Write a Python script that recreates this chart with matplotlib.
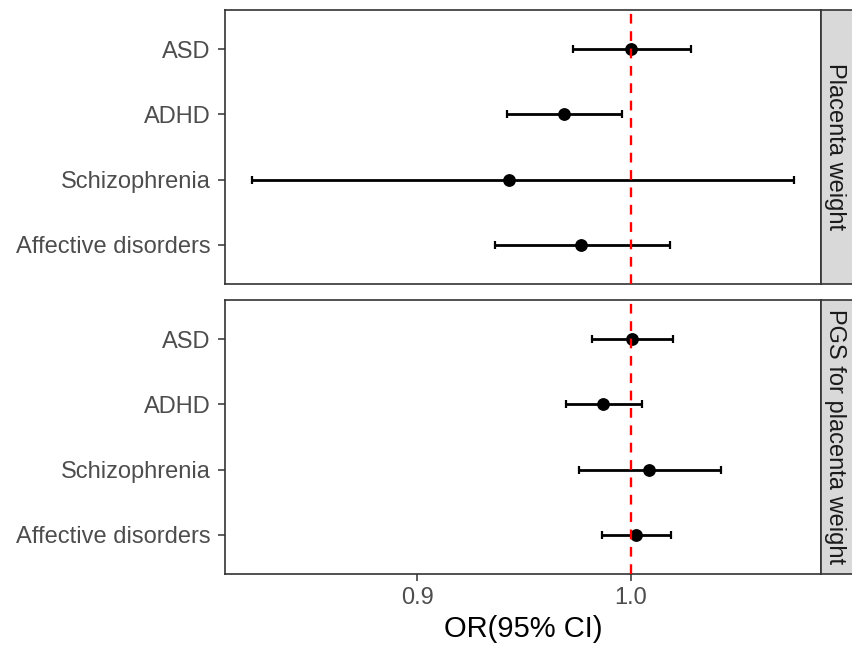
import numpy as np
import matplotlib
matplotlib.use("Agg")
import matplotlib.pyplot as plt

plt.rcParams['font.family'] = ['Liberation Sans', 'DejaVu Sans']
plt.rcParams['lines.scale_dashes'] = False

# Outcomes, listed top to bottom
outcomes = ["ASD", "ADHD", "Schizophrenia", "Affective disorders"]
exposures = ["Placenta weight", "PGS for placenta weight"]

# Odds ratios with 95% confidence limits
pw_or = [1.000, 0.9686, 0.9428, 0.9764]
pw_lo = [0.9727, 0.9418, 0.8228, 0.9364]
pw_hi = [1.0282, 0.9959, 1.0762, 1.0184]

pgs_or = [1.0005, 0.9871, 1.0082, 1.0025]
pgs_lo = [0.9818, 0.9698, 0.9757, 0.9866]
pgs_hi = [1.0198, 1.0052, 1.0421, 1.0187]

x_ticks = [0.9, 1.0]
x_tick_labels = ["0.9", "1.0"]

W, H = 853, 647
fig = plt.figure(figsize=(W / 100, H / 100), dpi=100)

GREY20 = "#333333"
GREY30 = "#4D4D4D"

left, right = 225, 821
panels = [(10, 284), (300, 574)]
series = [(pw_or, pw_lo, pw_hi), (pgs_or, pgs_lo, pgs_hi)]

all_lo = min(pw_lo + pgs_lo)
all_hi = max(pw_hi + pgs_hi)
span = all_hi - all_lo
xlim = (all_lo - 0.05 * span, all_hi + 0.05 * span)

y = np.arange(len(outcomes))

for i, ((top, bot), (est, lo, hi), label) in enumerate(zip(panels, series, exposures)):
    ax = fig.add_axes([left / W, 1 - bot / H, (right - left) / W, (bot - top) / H])
    est = np.array(est); lo = np.array(lo); hi = np.array(hi)
    ax.errorbar(est, y, xerr=[est - lo, hi - est], fmt='none', ecolor='black',
                elinewidth=2.0, capsize=2.8, capthick=1.6, zorder=2)
    ax.plot(est, y, 'o', color='black', markersize=8.2, zorder=3)
    ax.axvline(1.0, color='red', linewidth=1.7, linestyle=(0, (7.0, 5.5)), zorder=4)

    ax.set_xlim(*xlim)
    ax.set_ylim(len(outcomes) - 0.4, -0.6)
    ax.set_yticks(y)
    ax.set_yticklabels(outcomes)
    ax.tick_params(axis='y', length=5, width=1.1, color=GREY20, labelcolor=GREY30,
                   labelsize=17, pad=5.5)
    for s in ax.spines.values():
        s.set_color(GREY20)
        s.set_linewidth(1.2)
    if i == 1:
        ax.set_xticks(x_ticks)
        ax.set_xticklabels(x_tick_labels)
        ax.tick_params(axis='x', length=5, width=1.1, color=GREY20, labelcolor=GREY30,
                       labelsize=17, pad=4)
        ax.set_xlabel("OR(95% CI)", fontsize=21, color='black', labelpad=5)
    else:
        ax.set_xticks([])

    # Facet strip on the right
    sax = fig.add_axes([right / W, 1 - bot / H, (W - right + 2) / W, (bot - top) / H])
    sax.set_facecolor("#D9D9D9")
    sax.set_xticks([]); sax.set_yticks([])
    for s in sax.spines.values():
        s.set_color(GREY20)
        s.set_linewidth(1.2)
    sax.text(0.42, 0.5, label, rotation=270, ha='center', va='center',
             fontsize=17, color="#1A1A1A", transform=sax.transAxes)

fig.savefig("out.png", dpi=100)
